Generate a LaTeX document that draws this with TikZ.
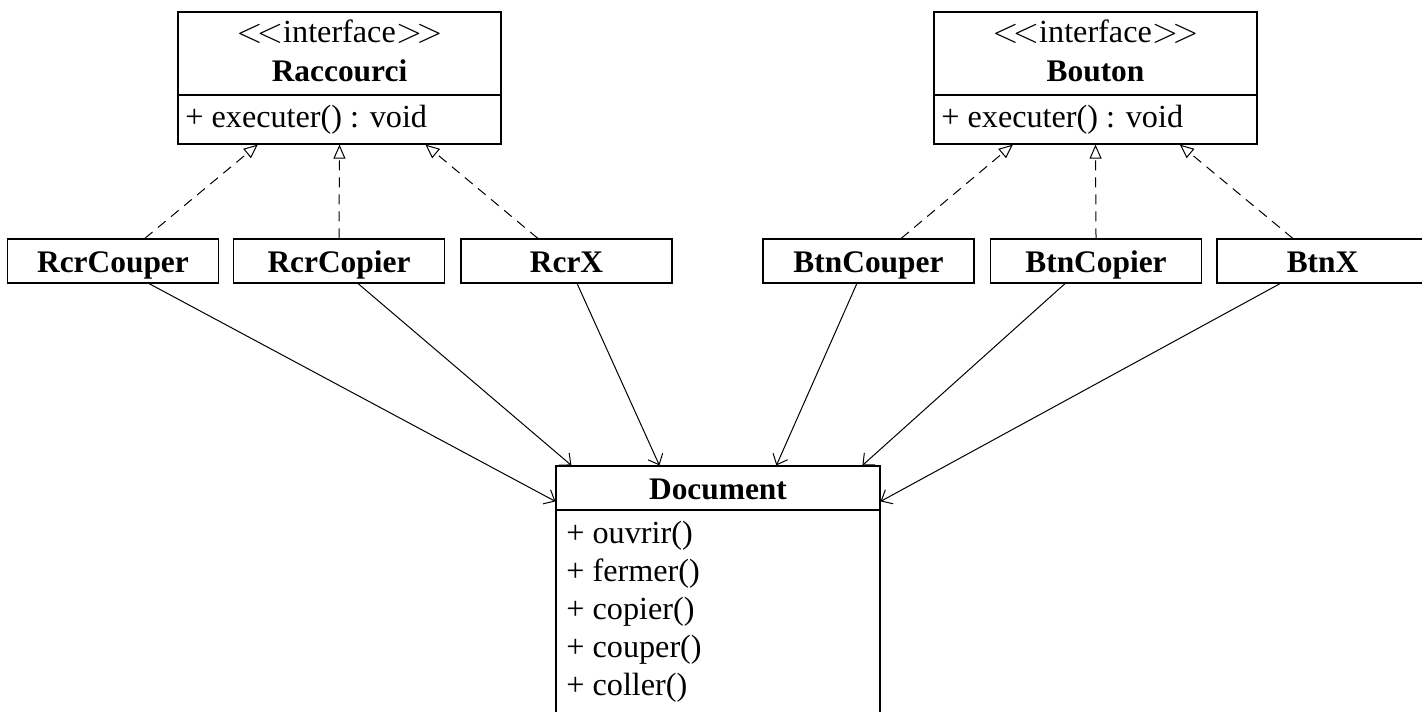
\documentclass[tikz,border=0pt]{standalone}
\usepackage{fontspec}
\setmainfont{Liberation Serif}
\usetikzlibrary{arrows.meta,calc}
\newcommand{\stereo}[1]{$<\!<$#1$>\!>$}
\begin{document}
\begin{tikzpicture}[x=0.5pt,y=-0.5pt,
  every node/.style={font=\fontsize{16.1}{19}\selectfont},
  box/.style={draw,line width=0.6pt,inner sep=0pt},
  cls/.style={box,minimum width=105.5pt,minimum height=22pt,
    font=\fontsize{15.7}{19}\selectfont\bfseries,text height=11pt,text depth=0pt},
  iface/.style={box,minimum width=161.5pt,minimum height=66pt},
  lbl/.style={inner sep=0pt,anchor=base},
  clsname/.style={lbl,font=\fontsize{15.7}{19}\selectfont\bfseries},
  member/.style={inner sep=0pt,anchor=base west},
  realize/.style={draw,line width=0.5pt,dash pattern=on 5pt off 3.5pt,
    -{Triangle[open,length=7pt,width=6pt,line width=0.5pt]}},
  assoc/.style={draw,line width=0.5pt,
    -{Straight Barb[length=4.5pt,width=8pt,line width=0.5pt]}},
  sep/.style={draw,line width=0.6pt}]
\useasboundingbox (0,0) rectangle (1422,711);
\begin{scope}
\clip (0,0) rectangle (1422,711);

% interfaces
\node[iface] (racc) at (339.5,78) {};
\node[lbl] (raccst) at (339.5,43) {\stereo{interface}};
\node[clsname] (raccnm) at (339.5,82) {Raccourci};
\node[member] (raccop) at (185,128) {+ executer() : void};
\draw[sep] (racc.west |- 0,95) -- (racc.east |- 0,95);

\node[iface] (bout) at (1095.5,78) {};
\node[lbl] (boutst) at (1095.5,43) {\stereo{interface}};
\node[clsname] (boutnm) at (1095.5,82) {Bouton};
\node[member] (boutop) at (941,128) {+ executer() : void};
\draw[sep] (bout.west |- 0,95) -- (bout.east |- 0,95);

% concrete classes
\node[cls] (rcrcouper) at (113,261) {RcrCouper};
\node[cls] (rcrcopier) at (339,261) {RcrCopier};
\node[cls] (rcrx) at (566.5,261) {RcrX};
\node[cls] (btncouper) at (868.5,261) {BtnCouper};
\node[cls] (btncopier) at (1096,261) {BtnCopier};
\node[cls] (btnx) at (1322.5,261) {BtnX};

% document class
\node[box,minimum width=162pt,minimum height=147pt] (doc) at (718,613) {};
\node[clsname] (docnm) at (718,499) {Document};
\draw[sep] (doc.west |- 0,510) -- (doc.east |- 0,510);
\node[member] (m1) at (566,543) {+ ouvrir()};
\node[member] (m2) at (566,581) {+ fermer()};
\node[member] (m3) at (566,619) {+ copier()};
\node[member] (m4) at (566,657) {+ couper()};
\node[member] (m5) at (566,695) {+ coller()};

% realizations
\path[realize] ($(rcrcouper.north west)!0.65!(rcrcouper.north east)$) -- ($(racc.south west)!0.248!(racc.south east)$);
\path[realize] (rcrcopier.north) -- (racc.south);
\path[realize] ($(rcrx.north west)!0.365!(rcrx.north east)$) -- ($(racc.south west)!0.765!(racc.south east)$);
\path[realize] ($(btncouper.north west)!0.654!(btncouper.north east)$) -- ($(bout.south west)!0.245!(bout.south east)$);
\path[realize] (btncopier.north) -- (bout.south);
\path[realize] ($(btnx.north west)!0.36!(btnx.north east)$) -- ($(bout.south west)!0.76!(bout.south east)$);

% associations towards the document
\path[assoc] ($(rcrcouper.south west)!0.67!(rcrcouper.south east)$) -- ([yshift=-18pt]doc.north west);
\path[assoc] ($(rcrcopier.south west)!0.59!(rcrcopier.south east)$) -- ([xshift=8pt]doc.north west);
\path[assoc] ($(rcrx.south west)!0.55!(rcrx.south east)$) -- ([xshift=52pt]doc.north west);
\path[assoc] ($(btncouper.south west)!0.445!(btncouper.south east)$) -- ([xshift=110.5pt]doc.north west);
\path[assoc] ($(btncopier.south west)!0.354!(btncopier.south east)$) -- ([xshift=153.5pt]doc.north west);
\path[assoc] ($(btnx.south west)!0.3!(btnx.south east)$) -- ([yshift=-18pt]doc.north east);
\end{scope}
\end{tikzpicture}
\end{document}
